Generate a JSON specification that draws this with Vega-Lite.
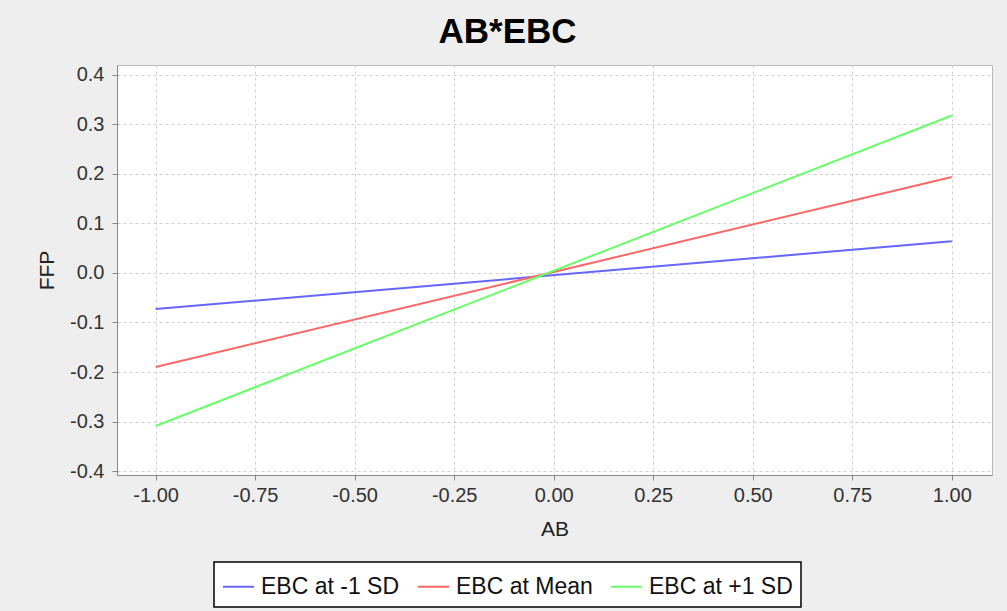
{
  "$schema": "https://vega.github.io/schema/vega-lite/v6.json",
  "width": 875,
  "height": 410,
  "autosize": {"type": "none"},
  "padding": {"left": 117, "top": 65, "right": 15, "bottom": 136},
  "background": "#eeeeee",
  "title": {
    "text": "AB*EBC",
    "font": "Liberation Sans",
    "fontSize": 35,
    "fontWeight": "bold",
    "color": "#000000",
    "anchor": "middle",
    "dx": -47,
    "offset": 15
  },
  "data": {
    "values": [
      {"AB": -1, "FFP": -0.073, "series": "EBC at -1 SD"},
      {"AB": 1, "FFP": 0.064, "series": "EBC at -1 SD"},
      {"AB": -1, "FFP": -0.19, "series": "EBC at Mean"},
      {"AB": 1, "FFP": 0.194, "series": "EBC at Mean"},
      {"AB": -1, "FFP": -0.309, "series": "EBC at +1 SD"},
      {"AB": 1, "FFP": 0.318, "series": "EBC at +1 SD"}
    ]
  },
  "mark": {"type": "line", "strokeWidth": 2, "clip": true},
  "encoding": {
    "x": {
      "field": "AB",
      "type": "quantitative",
      "scale": {"domain": [-1.097, 1.101], "nice": false, "zero": false},
      "axis": {
        "title": "AB",
        "values": [-1, -0.75, -0.5, -0.25, 0, 0.25, 0.5, 0.75, 1],
        "format": ".2f",
        "labelExpr": "replace(datum.label, '\u2212', '-')",
        "labelPadding": 5,
        "titlePadding": 13
      }
    },
    "y": {
      "field": "FFP",
      "type": "quantitative",
      "scale": {"domain": [-0.408, 0.42], "nice": false, "zero": false},
      "axis": {
        "title": "FFP",
        "values": [-0.4, -0.3, -0.2, -0.1, 0, 0.1, 0.2, 0.3, 0.4],
        "format": ".1f",
        "labelExpr": "replace(datum.label, '\u2212', '-')",
        "labelPadding": 8,
        "titlePadding": 12
      }
    },
    "color": {
      "field": "series",
      "type": "nominal",
      "scale": {
        "domain": ["EBC at -1 SD", "EBC at Mean", "EBC at +1 SD"],
        "range": ["#6666ff", "#ff6666", "#66ff66"]
      },
      "legend": {
        "orient": "none",
        "legendX": 97,
        "legendY": 497,
        "direction": "horizontal",
        "columns": 3,
        "title": null,
        "symbolType": "stroke",
        "symbolSize": 961,
        "symbolStrokeWidth": 2,
        "labelFont": "Liberation Sans",
        "labelFontSize": 23,
        "labelColor": "#111111",
        "labelOffset": 6,
        "columnPadding": 14,
        "padding": 8,
        "fillColor": "#ffffff",
        "strokeColor": "#000000"
      }
    }
  },
  "config": {
    "view": {"stroke": "#bbbbbb", "fill": "#ffffff"},
    "axis": {
      "labelFont": "Liberation Sans",
      "labelFontSize": 20,
      "labelColor": "#333333",
      "labelFlush": false,
      "labelOverlap": false,
      "tickColor": "#888888",
      "tickSize": 5,
      "domainColor": "#888888",
      "gridColor": "#d0d0d0",
      "gridDash": [3, 3],
      "titleFont": "Liberation Sans",
      "titleFontSize": 21,
      "titleFontWeight": "normal",
      "titleColor": "#222222"
    },
    "legend": {"strokeWidth": 1.5}
  }
}
